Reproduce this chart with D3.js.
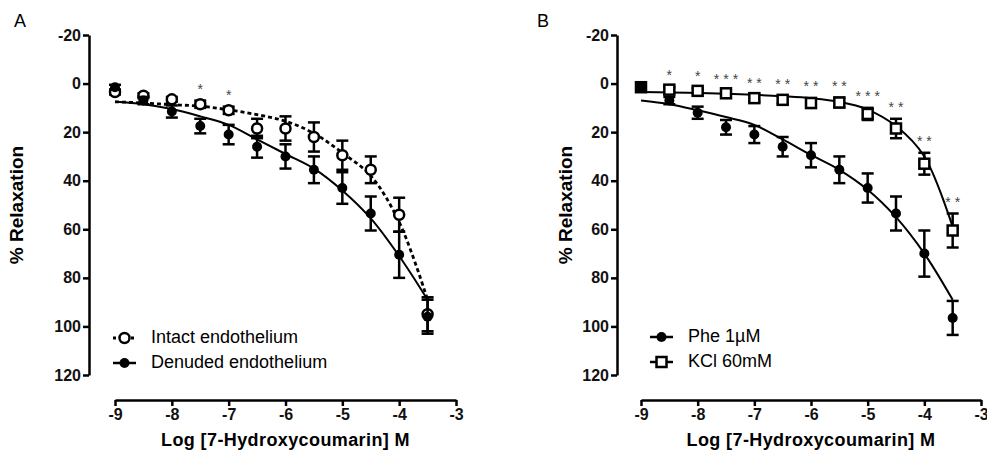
<!DOCTYPE html>
<html>
<head>
<meta charset="utf-8">
<script src="https://cdn.jsdelivr.net/npm/d3@7"></script>
<style>
  body { margin: 0; background: #fff; }
  svg { font-family: "Liberation Sans", Arial, sans-serif; }
</style>
</head>
<body>
<svg id="chart" width="987" height="451"></svg>
<script>
// Concentrations (log M) shared by every series
const logConc = [-9, -8.5, -8, -7.5, -7, -6.5, -6, -5.5, -5, -4.5, -4, -3.5];

// Panel A
const intactMean = [3.5, 5, 6.5, 8.5, 11, 18.5, 18.5, 22, 29.5, 35.5, 54, 95];
const intactSem = [1, 1, 1, 1.5, 1.5, 4, 5, 6, 6, 5.5, 7, 7];
const intactFit = [7.5, 8, 8.7, 9.3, 10.8, 12.8, 15.5, 20.5, 28.5, 38, 57, 89];
const denudedMean = [1.5, 7, 11.5, 17.5, 21, 26, 30, 35.5, 43, 53.5, 70.5, 96];
const denudedSem = [1, 1.5, 2.5, 3, 4, 4.5, 5, 5.5, 6.5, 7, 9.5, 7];
const denudedFit = [7.5, 8.5, 10.5, 13.5, 17, 23, 29, 35, 44, 55.5, 71, 89];
const starsA = ["", "", "", "*", "*", "", "", "", "", "", "", ""];

// Panel B
const pheMean = [1.5, 7, 12, 18, 21, 26, 29.5, 35.5, 43, 53.5, 70, 96.5];
const pheSem = [1, 1.5, 2.5, 3, 3.5, 4, 5, 5.5, 6, 7, 9.5, 7];
const pheFit = [7, 8.5, 11, 13.8, 17, 23, 29.4, 35.5, 43.7, 55, 70, 89];
const kclMean = [1.5, 2.5, 3, 4, 6, 6.7, 8, 7.8, 12.5, 18.5, 33, 60.5];
const kclSem = [1.5, 1, 1, 1, 1.5, 1.5, 2, 2, 2.5, 4, 4.5, 7];
const kclFit = [3.5, 3.7, 3.9, 4.2, 4.6, 5.2, 6, 7.5, 10.7, 17.5, 30, 59];
const starsB = ["", "*", "*", "***", "**", "**", "**", "**", "***", "**", "**", "**"];

// Axis ticks
const yTicks = [-20, 0, 20, 40, 60, 80, 100, 120];
const xTicks = [-9, -8, -7, -6, -5, -4, -3];

const svg = d3.select("#chart");

function series(means, sems) {
    return logConc.map((c, i) => ({ c: c, m: means[i], s: sems[i] }));
}

function fitLine(fit) {
    return logConc.map((c, i) => ({ c: c, v: fit[i] }));
}

function drawPanel(cfg) {
    const g = svg.append("g");

    const x = d3.scaleLinear().domain([-9, -3]).range([cfg.x0, cfg.x1]);
    const y = d3.scaleLinear().domain([-20, 120]).range([35, 375]);

    // panel letter
    g.append("text")
        .attr("x", cfg.letterX).attr("y", 22)
        .attr("text-anchor", "middle")
        .attr("dominant-baseline", "middle")
        .style("font-size", "18px")
        .text(cfg.letter);

    // y axis
    const yAxis = g.append("g")
        .attr("transform", `translate(${cfg.yAxisX},0)`)
        .call(d3.axisLeft(y).tickValues(yTicks).tickSize(6).tickSizeOuter(0).tickPadding(2).tickFormat(d => String(d)));

    // x axis (detached, below the plot)
    const xAxis = g.append("g")
        .attr("transform", "translate(0,400)")
        .call(d3.axisBottom(x).tickValues(xTicks).tickSize(6).tickSizeOuter(0).tickPadding(3).tickFormat(d => String(d)));

    [yAxis, xAxis].forEach(a => {
        a.select(".domain").attr("stroke", "#000").attr("stroke-width", 2.5);
        a.selectAll(".tick line").attr("stroke", "#000").attr("stroke-width", 2.5);
        a.selectAll(".tick text")
            .attr("fill", "#111")
            .style("font-size", "16px")
            .style("font-weight", "bold")
            .style("font-family", "'Liberation Sans', Arial, sans-serif");
    });

    // axis titles
    g.append("text")
        .attr("x", (cfg.x0 + cfg.x1) / 2).attr("y", 446)
        .attr("text-anchor", "middle")
        .style("font-size", "18px")
        .style("font-weight", "bold")
        .style("letter-spacing", "0.4px")
        .text("Log [7-Hydroxycoumarin] M");

    g.append("text")
        .attr("transform", `translate(${cfg.yTitleX},205) rotate(-90)`)
        .attr("text-anchor", "middle")
        .attr("dominant-baseline", "middle")
        .style("font-size", "19px")
        .style("font-weight", "bold")
        .text("% Relaxation");

    const line = d3.line()
        .x(d => x(d.c))
        .y(d => y(d.v))
        .curve(d3.curveCatmullRom.alpha(0.5));

    cfg.groups.forEach(grp => {
        // fitted curve
        g.append("path")
            .datum(fitLine(grp.fit))
            .attr("fill", "none")
            .attr("stroke", "#000")
            .attr("stroke-width", grp.dashed ? 2.8 : 2)
            .attr("stroke-dasharray", grp.dashed ? "4,3" : null)
            .attr("d", line);
    });

    cfg.groups.forEach(grp => {
        const pts = series(grp.mean, grp.sem);

        // error bars
        const eb = g.append("g").selectAll("g").data(pts).join("g");
        eb.append("line")
            .attr("x1", d => x(d.c)).attr("x2", d => x(d.c))
            .attr("y1", d => y(d.m - d.s)).attr("y2", d => y(d.m + d.s))
            .attr("stroke", "#000").attr("stroke-width", 2.5);
        eb.selectAll("line.cap")
            .data(d => [d.m - d.s, d.m + d.s].map(v => ({ c: d.c, v: v })))
            .join("line")
            .attr("class", "cap")
            .attr("x1", d => x(d.c) - 6).attr("x2", d => x(d.c) + 6)
            .attr("y1", d => y(d.v)).attr("y2", d => y(d.v))
            .attr("stroke", "#000").attr("stroke-width", 2.5);

        drawMarkers(g, grp.shape, pts, x, y);

        // significance stars
        if (grp.stars) {
            g.append("g").selectAll("text")
                .data(pts.map((d, i) => ({ ...d, t: grp.stars[i] })).filter(d => d.t))
                .join("text")
                .attr("x", d => x(d.c) + 2)
                .attr("y", d => y(d.m - d.s) - 7)
                .attr("text-anchor", "middle")
                .attr("fill", "#444")
                .style("font-size", "14px")
                .style("letter-spacing", "4px")
                .text(d => d.t);
        }
    });

    // legend
    cfg.groups.forEach((grp, i) => {
        const ly = cfg.legendY + i * 25;
        const lx = cfg.legendX;
        g.append("line")
            .attr("x1", lx).attr("x2", lx + 23)
            .attr("y1", ly).attr("y2", ly)
            .attr("stroke", "#000")
            .attr("stroke-width", grp.dashed ? 2.8 : 2.5)
            .attr("stroke-dasharray", grp.dashed ? "3,3" : null);
        drawMarkers(g, grp.shape, [{ px: lx + 11.5, py: ly }], null, null);
        g.append("text")
            .attr("x", lx + 38).attr("y", ly)
            .attr("dominant-baseline", "middle")
            .style("font-size", "18px")
            .text(grp.label);
    });
}

function drawMarkers(g, shape, pts, x, y) {
    const px = d => x ? x(d.c) : d.px;
    const py = d => y ? y(d.m) : d.py;
    if (shape === "filled") {
        g.append("g").selectAll("circle").data(pts).join("circle")
            .attr("cx", px).attr("cy", py).attr("r", 5)
            .attr("fill", "#000");
    } else if (shape === "open") {
        g.append("g").selectAll("circle").data(pts).join("circle")
            .attr("cx", px).attr("cy", py).attr("r", 5)
            .attr("fill", "#fff").attr("stroke", "#000").attr("stroke-width", 2.5);
    } else {
        // open squares; the first one is covered by the Phe point and looks solid
        g.append("g").selectAll("rect").data(pts).join("rect")
            .attr("x", d => px(d) - 5).attr("y", d => py(d) - 5)
            .attr("width", 10).attr("height", 10)
            .attr("fill", (d, i) => (x && i === 0) ? "#000" : "#fff")
            .attr("stroke", "#000").attr("stroke-width", 2.5);
    }
}

drawPanel({
    letter: "A", letterX: 20,
    x0: 115, x1: 456, yAxisX: 89, yTitleX: 18,
    legendX: 113, legendY: 338,
    groups: [
        { label: "Intact endothelium", shape: "open", dashed: true, mean: intactMean, sem: intactSem, fit: intactFit, stars: starsA },
        { label: "Denuded endothelium", shape: "filled", dashed: false, mean: denudedMean, sem: denudedSem, fit: denudedFit }
    ]
});

drawPanel({
    letter: "B", letterX: 543,
    x0: 641, x1: 981, yAxisX: 617, yTitleX: 567,
    legendX: 650, legendY: 337,
    groups: [
        { label: "Phe 1\u00b5M", shape: "filled", dashed: false, mean: pheMean, sem: pheSem, fit: pheFit },
        { label: "KCl 60mM", shape: "square", dashed: false, mean: kclMean, sem: kclSem, fit: kclFit, stars: starsB }
    ]
});
</script>
</body>
</html>
